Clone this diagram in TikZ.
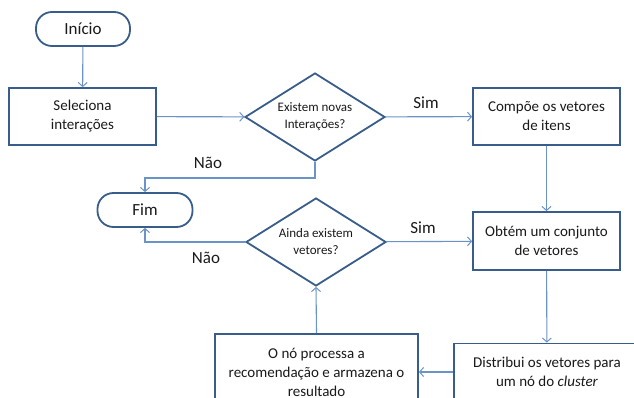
\documentclass[tikz,border=0pt]{standalone}
\usepackage{fontspec}
\setmainfont{Carlito}
\usetikzlibrary{shapes.geometric,arrows.meta}
\definecolor{bord}{HTML}{385D8A}
\definecolor{arr}{HTML}{6A93C6}
\definecolor{txt}{HTML}{1A1A1A}
\begin{document}
\begin{tikzpicture}[x=1pt,y=-1pt,
  box/.style={draw=bord,line width=1.8pt,fill=white,rectangle,align=center,inner sep=0pt,text=txt,font=\fontsize{15}{19}\selectfont},
  term/.style={box,rounded corners=16pt,minimum height=34pt,font=\fontsize{17}{20}\selectfont},
  dec/.style={draw=bord,line width=1.8pt,fill=white,diamond,aspect=1.6,inner sep=0pt,align=center,text=txt,minimum width=140pt,minimum height=88pt,font=\fontsize{13}{17}\selectfont},
  link/.style={draw=arr,line width=1.1pt,-{Straight Barb[length=4pt,width=9pt,line width=1pt]}},
  lab/.style={text=txt,font=\fontsize{17}{20}\selectfont,inner sep=0pt}]
\useasboundingbox (0,0) rectangle (634,398);
\clip (0,0) rectangle (634,398);
\node[term,minimum width=94pt] (ini) at (83,29) {Início};
\node[box,minimum width=147pt,minimum height=57pt] (sel) at (82.5,116.5) {Seleciona\\interações};
\node[dec] (d1) at (315,117) {Existem novas\\Interações?};
\node[box,minimum width=147pt,minimum height=57pt] (comp) at (546.5,116.5) {Compõe os vetores\\de itens};
\node[term,minimum width=95pt] (fim) at (145,210) {Fim};
\node[dec] (d2) at (316,242) {Ainda existem\\vetores?};
\node[box,minimum width=147pt,minimum height=58pt] (obt) at (546.5,241) {Obtém um conjunto\\de vetores};
\node[box,minimum width=186pt,minimum height=57pt] (dist) at (547,372) {Distribui os vetores para\\um nó do \textit{cluster}};
\node[box,minimum width=203pt,minimum height=76pt] (ono) at (316.5,372) {O nó processa a\\recomendação e armazena o\\resultado};
\coordinate (c1) at (315,178);
\coordinate (c2) at (145,178);
\coordinate (c3) at (145,242);
\draw[link] (ini) -- (sel);
\draw[link] (sel) -- (d1);
\draw[link] (d1) -- (comp);
\draw[link] (d1.south) -- (c1) -- (c2) -- (fim.north);
\draw[link] (comp) -- (obt);
\draw[link] (d2) -- (obt);
\draw[link] (d2.west) -- (c3) -- (fim.south);
\draw[link] (obt) -- (dist);
\draw[link] (dist.west) -- (ono.east);
\draw[link] (ono.north) -- (d2.south);
\node[lab] (s1) at (426,103) {Sim};
\node[lab] (n1) at (208,163) {Não};
\node[lab] (s2) at (423,228) {Sim};
\node[lab] (n2) at (206,258) {Não};
\end{tikzpicture}
\end{document}
